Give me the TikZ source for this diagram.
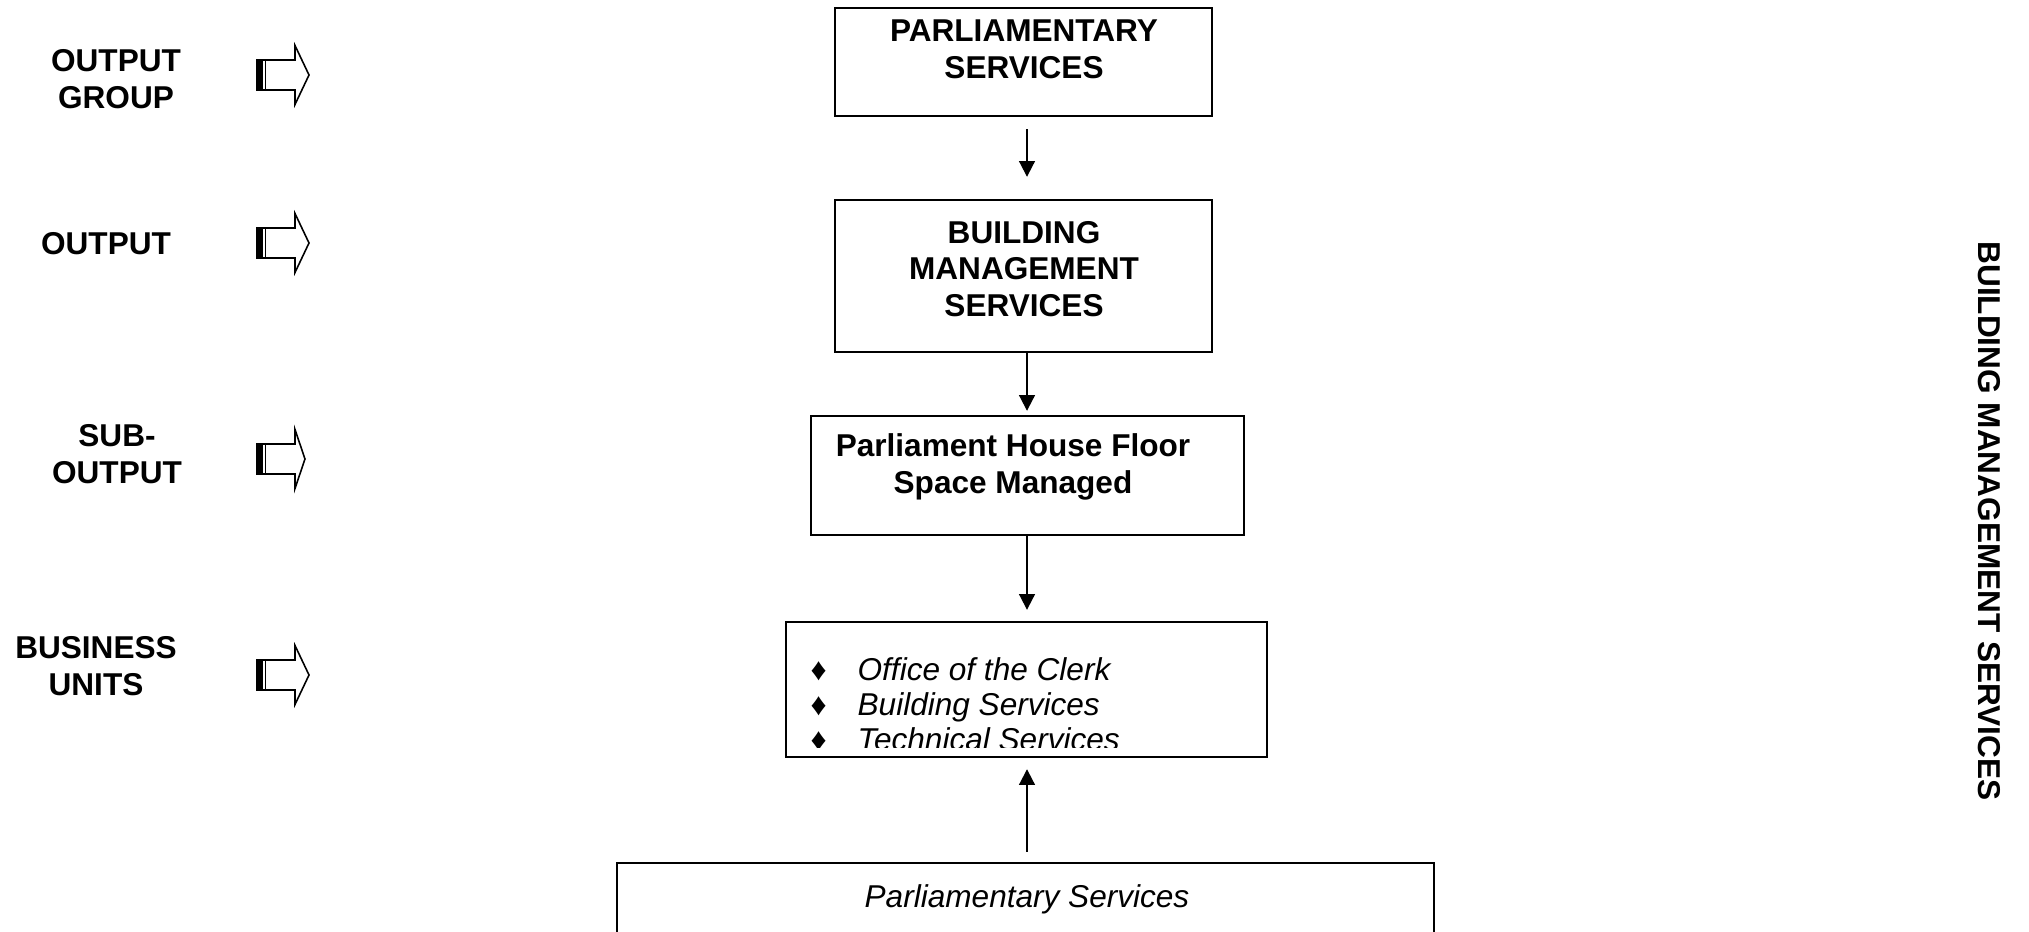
\documentclass[tikz,border=0pt]{standalone}
\usepackage{fontspec}
\setmainfont{Liberation Sans}
\usetikzlibrary{fit,arrows.meta}
\newcommand\fatarr[2]{%
  \draw[fat] (257,#1-15) -- (295,#1-15) -- (295,#1-29.5) -- (#2,#1) -- (295,#1+29.5) -- (295,#1+15) -- (257,#1+15) -- cycle;
  \fill (257,#1-15) rectangle (262.5,#1+15);
  \draw[line width=0.5pt] (265.5,#1-15) -- (265.5,#1+15);}
\begin{document}
\begin{tikzpicture}[x=0.38pt,y=-0.38pt,
  box/.style={draw, line width=0.9pt, inner sep=0pt},
  lab/.style={font=\fontsize{12}{14}\selectfont\bfseries, align=center, inner sep=0pt},
  itx/.style={font=\fontsize{12}{13.3}\selectfont\itshape, inner sep=0pt},
  conn/.style={line width=0.75pt, -{Triangle[length=6pt,width=6pt]}},
  fat/.style={line width=0.6pt, line join=miter}]
\clip (0,0) rectangle (2029,932);
\fill[white] (0,0) rectangle (2029,932);
% left labels
\node[lab] (og) at (116,79) {OUTPUT\\GROUP};
\node[lab] (o) at (106,244) {OUTPUT};
\node[lab] (so) at (117,454) {SUB-\\OUTPUT};
\node[lab] (bu) at (96,666) {BUSINESS\\UNITS};
\fatarr{75}{309}
\fatarr{243}{309}
\fatarr{459}{305}
\fatarr{675}{309}
% boxes
\node[box, fit={(835,8) (1212,116)}] (b1) {};
\node[lab] (t1) at (1024,49) {PARLIAMENTARY\\SERVICES};
\node[box, fit={(835,200) (1212,352)}] (b2) {};
\node[lab] (t2) at (1024,269) {BUILDING\\MANAGEMENT\\SERVICES};
\node[box, fit={(811,416) (1244,535)}] (b3) {};
\node[lab, align=center] (t3) at (1013,467) {Parliament House Floor\\Space Managed};
\node[box, fit={(786,622) (1267,757)}] (b4) {};
\begin{scope}
\clip (786,622) rectangle (1267,747);
\node[itx, anchor=west, align=left] (t4) at (810,704)
  {\makebox[17.9pt][l]{\upshape ♦}Office of the Clerk\\
   \makebox[17.9pt][l]{\upshape ♦}Building Services\\
   \makebox[17.9pt][l]{\upshape ♦}Technical Services};
\end{scope}
\node[box, fit={(617,863) (1434,960)}] (b5) {};
\node[itx] (t5) at (1027,899) {Parliamentary Services};
% side label
\node[lab, rotate=-90] (side) at (1989,521) {BUILDING MANAGEMENT SERVICES};
% connectors
\coordinate (ax) at (1027,0);
\draw[conn, shorten <=12*0.38pt, shorten >=22*0.38pt] (b1.south -| ax) -- (b2.north -| ax);
\draw[conn, shorten >=4*0.38pt] (b2.south -| ax) -- (b3.north -| ax);
\draw[conn, shorten >=11*0.38pt] (b3.south -| ax) -- (b4.north -| ax);
\draw[conn, shorten <=10*0.38pt, shorten >=11*0.38pt] (b5.north -| ax) -- (b4.south -| ax);
\end{tikzpicture}
\end{document}
